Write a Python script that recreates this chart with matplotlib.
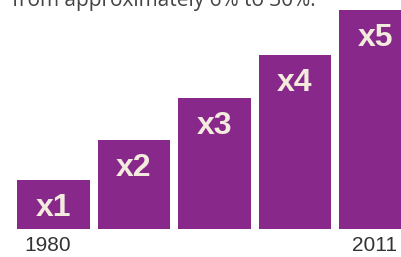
import matplotlib.pyplot as plt

# data (bar heights in pixels of the original)
labels = ["x1", "x2", "x3", "x4", "x5"]
heights = [49, 89, 131, 174, 219]
years = ["1980", "", "", "", "2011"]
caption = "from approximately 6% to 30%."

purple = "#88288A"
cream = "#F3EBDD"
narrow = ["Liberation Sans", "DejaVu Sans"]

fig = plt.figure(figsize=(4.01, 2.57), dpi=100)
ax = fig.add_axes([0, 0, 1, 1])
ax.axis("off")

pos = list(range(len(heights)))
ax.bar(pos, heights, width=0.9, color=purple)

for p, h, lab in zip(pos, heights, labels):
    ax.text(p, h - 13, lab, ha="center", va="top", color=cream,
            fontsize=23, fontweight="bold", family=narrow)

# year labels under the first and last bars
ax.text(pos[0] - 0.07, -7, years[0], ha="center", va="top", color="#333333",
        fontsize=15, family=narrow)
ax.text(pos[-1] + 0.27, -7, years[-1], ha="right", va="top", color="#333333",
        fontsize=15, family=narrow)

ax.set_xlim(-0.665, 4.317)
ax.set_ylim(-28, 229)

fig.text(12 / 401, 1 - 6.3 / 257, caption, ha="left", va="baseline",
         color="#444444", fontsize=15, family=["Open Sans", "DejaVu Sans"])

fig.savefig("out.png", dpi=100)
